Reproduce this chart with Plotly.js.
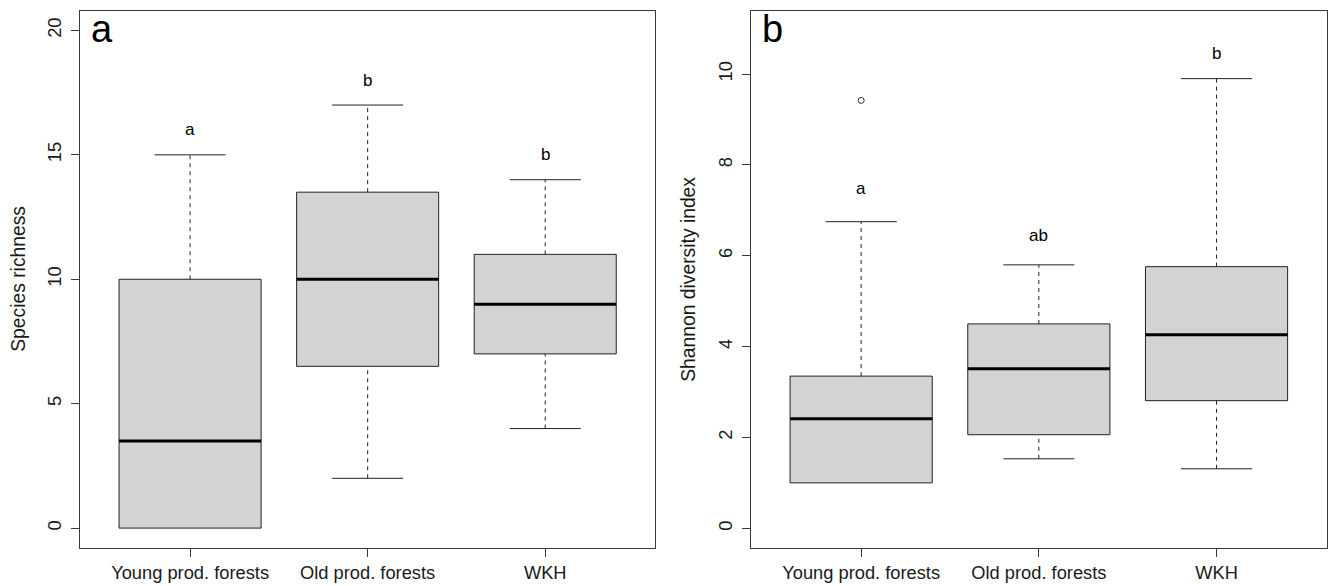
<!DOCTYPE html>
<html>
<head>
<meta charset="utf-8">
<script src="https://cdn.plot.ly/plotly-3.0.1.min.js"></script>
<style>
  html, body { margin: 0; padding: 0; background: #fff; }
  #chart { width: 1328px; height: 586px; }
</style>
</head>
<body>
<div id="chart"></div>
<script>
// ---- data ----
const categories = ["Young prod. forests", "Old prod. forests", "WKH"];
const categoryPos = [1, 2, 3];

// Panel a: Species richness
const richLowWhisker = [0, 2, 4];
const richQ1 = [0, 6.5, 7];
const richMedian = [3.5, 10, 9];
const richQ3 = [10, 13.5, 11];
const richHighWhisker = [15, 17, 14];
const richOutliers = [[], [], []];
const richLetters = ["a", "b", "b"];
const richLetterY = [16, 18, 15];
const richTicks = [0, 5, 10, 15, 20];

// Panel b: Shannon diversity index
const shanLowWhisker = [1.0, 1.53, 1.31];
const shanQ1 = [1.0, 2.06, 2.81];
const shanMedian = [2.41, 3.51, 4.26];
const shanQ3 = [3.35, 4.50, 5.76];
const shanHighWhisker = [6.75, 5.80, 9.90];
const shanOutliers = [[9.42], [], []];
const shanLetters = ["a", "ab", "b"];
const shanLetterY = [7.48, 6.44, 10.45];
const shanTicks = [0, 2, 4, 6, 8, 10];

// ---- styling ----
const W = 1328, H = 586;
const BOX_HALF = 0.4, CAP_HALF = 0.2;
const FONT = "Liberation Sans, Arial, sans-serif";
const TXT = "#1a1a1a";
const FRAME = "#3a3a3a";

function boxTraces(xa, ya, low, q1, med, q3, high, outs) {
  const tr = [];
  categoryPos.forEach((c, i) => {
    tr.push({
      type: "scatter", mode: "lines", xaxis: xa, yaxis: ya,
      x: [c - BOX_HALF, c + BOX_HALF, c + BOX_HALF, c - BOX_HALF, c - BOX_HALF],
      y: [q1[i], q1[i], q3[i], q3[i], q1[i]],
      fill: "toself", fillcolor: "#D3D3D3",
      line: { color: "#222", width: 1 }, hoverinfo: "skip"
    });
    if (high[i] > q3[i]) {
      tr.push({ type: "scatter", mode: "lines", xaxis: xa, yaxis: ya,
        x: [c, c], y: [q3[i], high[i]],
        line: { color: "#222", width: 1, dash: "4px,4px" }, hoverinfo: "skip" });
      tr.push({ type: "scatter", mode: "lines", xaxis: xa, yaxis: ya,
        x: [c - CAP_HALF, c + CAP_HALF], y: [high[i], high[i]],
        line: { color: "#222", width: 1 }, hoverinfo: "skip" });
    }
    if (low[i] < q1[i]) {
      tr.push({ type: "scatter", mode: "lines", xaxis: xa, yaxis: ya,
        x: [c, c], y: [low[i], q1[i]],
        line: { color: "#222", width: 1, dash: "4px,4px" }, hoverinfo: "skip" });
      tr.push({ type: "scatter", mode: "lines", xaxis: xa, yaxis: ya,
        x: [c - CAP_HALF, c + CAP_HALF], y: [low[i], low[i]],
        line: { color: "#222", width: 1 }, hoverinfo: "skip" });
    }
    tr.push({ type: "scatter", mode: "lines", xaxis: xa, yaxis: ya,
      x: [c - BOX_HALF, c + BOX_HALF], y: [med[i], med[i]],
      line: { color: "#000", width: 3 }, hoverinfo: "skip" });
    if (outs[i].length) {
      tr.push({ type: "scatter", mode: "markers", xaxis: xa, yaxis: ya,
        x: outs[i].map(() => c), y: outs[i],
        marker: { symbol: "circle-open", size: 6, color: "#333", line: { width: 1, color: "#333" } },
        hoverinfo: "skip" });
    }
  });
  return tr;
}

const traces = []
  .concat(boxTraces("x", "y", richLowWhisker, richQ1, richMedian, richQ3, richHighWhisker, richOutliers))
  .concat(boxTraces("x2", "y2", shanLowWhisker, shanQ1, shanMedian, shanQ3, shanHighWhisker, shanOutliers));

const yDom = [1 - 548 / H, 1 - 10.5 / H];

function xAxis(dom) {
  return {
    domain: dom, range: [0.38, 3.62], tickmode: "array",
    tickvals: categoryPos, ticktext: categories,
    ticks: "outside", ticklen: 8, tickwidth: 1, tickcolor: FRAME,
    showline: true, mirror: true, linecolor: FRAME, linewidth: 1,
    showgrid: false, zeroline: false, fixedrange: true,
    tickfont: { family: FONT, size: 18.3, color: TXT }
  };
}
function yAxis(anchor, range, ticks) {
  return {
    domain: yDom, anchor: anchor, range: range, tickmode: "array",
    tickvals: ticks, ticktext: ticks.map(String), tickangle: -90,
    ticks: "outside", ticklen: 8, tickwidth: 1, tickcolor: FRAME,
    ticklabelstandoff: 3,
    showline: true, mirror: true, linecolor: FRAME, linewidth: 1,
    showgrid: false, zeroline: false, fixedrange: true,
    tickfont: { family: FONT, size: 18.3, color: TXT }
  };
}

const annotations = [];
annotations.push({ xref: "paper", yref: "paper", x: 18.5 / W, y: (yDom[0] + yDom[1]) / 2,
  text: "Species richness", textangle: -90, showarrow: false, xanchor: "center", yanchor: "middle",
  font: { family: FONT, size: 19.3, color: TXT } });
annotations.push({ xref: "paper", yref: "paper", x: 688.5 / W, y: (yDom[0] + yDom[1]) / 2,
  text: "Shannon diversity index", textangle: -90, showarrow: false, xanchor: "center", yanchor: "middle",
  font: { family: FONT, size: 19.3, color: TXT } });
annotations.push({ xref: "paper", yref: "paper", x: 89 / W, y: 1 - 28.8 / H,
  text: "a", showarrow: false, xanchor: "left", yanchor: "middle",
  font: { family: FONT, size: 38, color: "#000" } });
annotations.push({ xref: "paper", yref: "paper", x: 760 / W, y: 1 - 28.8 / H,
  text: "b", showarrow: false, xanchor: "left", yanchor: "middle",
  font: { family: FONT, size: 38, color: "#000" } });
categoryPos.forEach((c, i) => {
  annotations.push({ xref: "x", yref: "y", x: c, y: richLetterY[i], text: richLetters[i],
    showarrow: false, xanchor: "center", yanchor: "middle",
    font: { family: FONT, size: 17, color: "#000" } });
  annotations.push({ xref: "x2", yref: "y2", x: c, y: shanLetterY[i], text: shanLetters[i],
    showarrow: false, xanchor: "center", yanchor: "middle",
    font: { family: FONT, size: 17, color: "#000" } });
});

const layout = {
  width: W, height: H,
  margin: { l: 0, r: 0, t: 0, b: 0 },
  paper_bgcolor: "#fff", plot_bgcolor: "#fff",
  showlegend: false, hovermode: false,
  xaxis: Object.assign(xAxis([80 / W, 655.3 / W]), { anchor: "y" }),
  yaxis: yAxis("x", [-0.8, 20.8], richTicks),
  xaxis2: Object.assign(xAxis([751 / W, 1326.7 / W]), { anchor: "y2" }),
  yaxis2: yAxis("x2", [-0.434, 11.40], shanTicks),
  annotations: annotations,
  font: { family: FONT, color: TXT }
};

Plotly.newPlot("chart", traces, layout, { staticPlot: true, displayModeBar: false });
</script>
</body>
</html>
